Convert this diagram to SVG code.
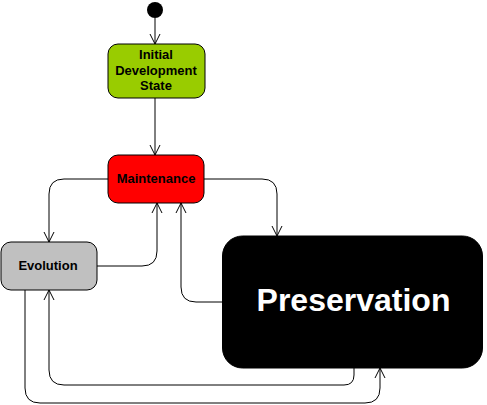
<svg xmlns="http://www.w3.org/2000/svg" width="487" height="405" viewBox="0 0 487 405">
<style>
.node{stroke:#000;stroke-width:1}
.lbl{font-family:"Liberation Sans",Arial,sans-serif;font-weight:bold;text-anchor:middle}
.edge{fill:none;stroke:#000;stroke-width:1}
</style>
<defs>
<marker id="arr" viewBox="0 0 12 12" refX="11" refY="6" markerWidth="12" markerHeight="12" markerUnits="userSpaceOnUse" orient="auto">
<path d="M1,1 L11,6 L1,11" fill="none" stroke="#000" stroke-width="1"/>
</marker>
</defs>
<rect width="487" height="405" fill="#fff"/>
<g id="connectors">
<path class="edge" d="M155,18 V44" marker-end="url(#arr)"/>
<path class="edge" d="M155,98 V155" marker-end="url(#arr)"/>
<path class="edge" d="M108,179 H64 Q49,179 49,194 V242" marker-end="url(#arr)"/>
<path class="edge" d="M97,266 H142 Q157,266 157,251 V203" marker-end="url(#arr)"/>
<path class="edge" d="M222,302 H196 Q181,302 181,287 V203" marker-end="url(#arr)"/>
<path class="edge" d="M204,179 H262 Q277,179 277,194 V236" marker-end="url(#arr)"/>
<path class="edge" d="M354,368 V375 Q354,385 344,385 H64 Q49,385 49,370 V290" marker-end="url(#arr)"/>
<path class="edge" d="M25,290 V388 Q25,403 40,403 H365 Q380,403 380,388 V368" marker-end="url(#arr)"/>
</g>
<g id="start"><circle cx="155" cy="10" r="8" fill="#000"/></g>
<g id="initial">
<rect class="node" x="108" y="44" width="97" height="54" rx="10" fill="#99cc00"/>
<text class="lbl" x="156" y="59" font-size="13">Initial</text>
<text class="lbl" x="156" y="75" font-size="13">Development</text>
<text class="lbl" x="156" y="90" font-size="13">State</text>
</g>
<g id="maintenance">
<rect class="node" x="108" y="155" width="96" height="48" rx="10" fill="#ff0000"/>
<text class="lbl" x="156" y="183" font-size="13">Maintenance</text>
</g>
<g id="evolution">
<rect class="node" x="1" y="242" width="96" height="48" rx="10" fill="#c0c0c0"/>
<text class="lbl" x="48" y="270" font-size="13">Evolution</text>
</g>
<g id="preservation">
<rect class="node" x="222.5" y="236" width="260" height="132" rx="20" fill="#000"/>
<text class="lbl" x="353.5" y="311" font-size="32" fill="#fff">Preservation</text>
</g>
</svg>
